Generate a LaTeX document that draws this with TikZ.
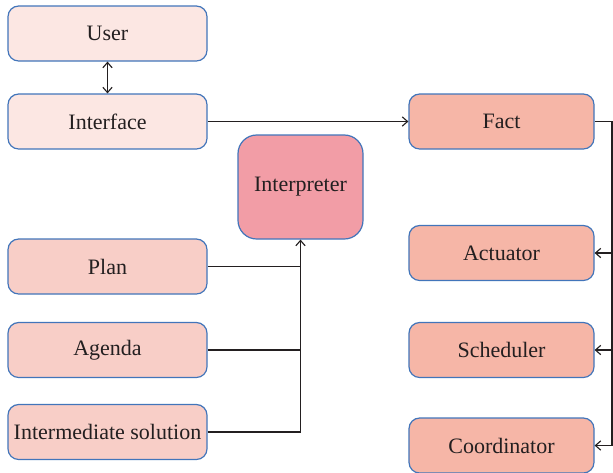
\documentclass[tikz,border=0pt]{standalone}
\usepackage{fontspec}
\setmainfont{Liberation Serif}
\usepackage{tikz}
\usetikzlibrary{positioning, arrows.meta}

\definecolor{boxblue}{RGB}{66,117,186}
\definecolor{textgray}{RGB}{35,31,32}
\definecolor{userfill}{RGB}{252,231,227}
\definecolor{planfill}{RGB}{248,206,199}
\definecolor{interpfill}{RGB}{242,157,166}
\definecolor{factfill}{RGB}{246,182,167}

\tikzset{
  box/.style={draw=boxblue, line width=0.9pt, rounded corners=8pt, text=textgray,
    minimum width=149.25pt, minimum height=41.25pt, inner sep=2pt,
    font=\fontsize{16.5}{19}\selectfont},
  link/.style={draw=textgray, line width=0.85pt, >={Straight Barb[length=4pt,width=7pt]}}
}

\begin{document}
\begin{tikzpicture}[x=0.75pt,y=0.75pt,yscale=-1,xscale=1]
        \useasboundingbox (0,0) rectangle (613,472);
        \node [box, fill=userfill] (user) at (107.5,33.5) {User};
        \node [box, fill=userfill] (interface) at (107.5,121.5) {Interface};
        \node [box, fill=interpfill, minimum width=93.75pt, minimum height=78pt, rounded corners=14pt] (interpreter) at (300.5,187) {Interpreter};
        \node [box, fill=planfill] (plan) at (107.5,266.5) {Plan};
        \node [box, fill=planfill] (agenda) at (107.5,350) {Agenda};
        \node [box, fill=planfill] (solution) at (107.5,432) {Intermediate solution};
        \node [box, fill=factfill, minimum width=138.75pt] (fact) at (501.5,121.5) {Fact};
        \node [box, fill=factfill, minimum width=138.75pt] (actuator) at (501.5,253) {Actuator};
        \node [box, fill=factfill, minimum width=138.75pt] (scheduler) at (501.5,350) {Scheduler};
        \node [box, fill=factfill, minimum width=138.75pt] (coordinator) at (501.5,445.5) {Coordinator};
        \coordinate (rail) at (612,121.5);
        \draw [link, <->] (user) -- (interface);
        \draw [link, ->] (interface) -- (fact);
        \draw [link] (plan) -| (interpreter);
        \draw [link] (agenda) -| (interpreter);
        \draw [link, ->] (solution) -| (interpreter);
        \draw [link, ->] (fact) -- (rail) |- (coordinator);
        \draw [link, ->] (rail) |- (actuator);
        \draw [link, ->] (rail) |- (scheduler);
\end{tikzpicture}
\end{document}
